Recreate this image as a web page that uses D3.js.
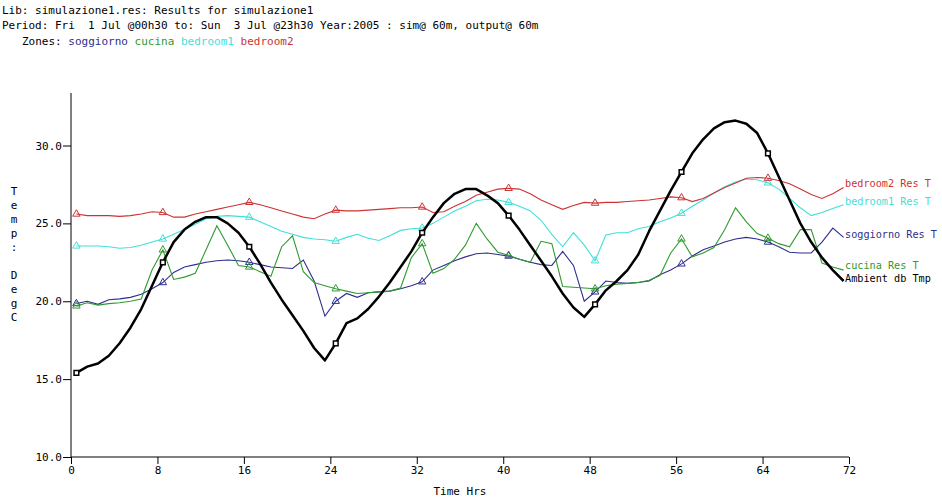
<!DOCTYPE html>
<html>
<head>
<meta charset="utf-8">
<script src="https://cdn.jsdelivr.net/npm/d3@7"></script>
<style>
  body { margin: 0; background: #fff; }
  text { font-family: "DejaVu Sans Mono", monospace; font-size: 11px; }
</style>
</head>
<body>
<script>
// hourly output, sim at 60m, values at hh:30
var hours = d3.range(72).map(function(i){ return i + 0.5; });
var xTicks = [0, 8, 16, 24, 32, 40, 48, 56, 64, 72];
var yTicks = [10, 15, 20, 25, 30];

var ambient = [15.4,15.8,16.0,16.5,17.3,18.3,19.5,21.0,22.5,23.8,24.6,25.1,25.4,25.4,25.0,24.4,
  23.5,22.4,21.2,20.1,19.1,18.1,17.0,16.2,17.3,18.6,18.9,19.5,20.3,21.2,22.2,23.2,
  24.4,25.4,26.3,26.9,27.2,27.2,26.8,26.3,25.5,24.6,23.6,22.6,21.6,20.5,19.6,19.0,
  19.8,20.7,21.3,22.0,23.0,24.5,25.8,27.1,28.3,29.5,30.4,31.1,31.5,31.6,31.4,30.8,
  29.5,28.0,26.5,25.0,23.8,22.8,22.0,21.3];
var soggiorno = [19.85,20.0,19.8,20.1,20.15,20.25,20.45,20.8,21.2,21.85,22.2,22.35,22.5,22.6,22.65,22.6,
  22.5,22.35,22.2,22.15,22.1,22.65,21.3,19.05,20.0,20.5,20.25,20.55,20.6,20.65,20.8,21.0,
  21.25,22.0,22.3,22.6,22.85,23.05,23.1,23.0,22.9,22.7,22.5,22.35,22.3,23.2,22.3,20.0,
  20.6,21.3,21.2,21.15,21.2,21.3,21.7,22.0,22.4,22.9,23.3,23.55,23.8,24.0,24.1,24.0,
  23.8,23.5,23.15,23.1,23.1,23.8,24.7,24.1];
var cucina = [19.7,19.9,19.75,19.85,19.9,20.0,20.15,22.0,23.3,21.4,21.55,21.8,23.3,24.85,23.6,22.3,
  22.2,21.9,21.6,23.5,24.2,21.9,21.2,21.0,20.8,20.65,20.5,20.55,20.6,20.65,20.85,22.8,
  23.7,21.8,22.1,22.7,23.6,25.0,24.0,23.15,22.95,22.7,22.5,23.85,23.7,20.95,20.9,20.85,
  20.8,21.0,21.1,21.15,21.2,21.35,21.65,23.1,24.0,22.85,23.1,23.45,24.6,26.0,25.1,24.35,
  24.05,23.7,23.5,24.6,24.6,22.45,22.2,22.0];
var bedroom1 = [23.55,23.55,23.55,23.5,23.4,23.45,23.6,23.8,24.0,24.3,24.6,24.95,25.3,25.45,25.5,25.45,
  25.4,25.1,24.8,24.5,24.3,24.1,24.0,23.95,23.85,24.1,24.3,24.05,23.9,24.2,24.55,24.65,
  24.7,25.0,25.4,25.8,26.1,26.45,26.55,26.5,26.35,26.1,25.8,25.2,24.3,23.5,24.4,23.6,
  22.6,24.25,24.4,24.4,24.65,24.8,25.1,25.35,25.65,26.1,26.5,26.95,27.35,27.65,27.85,27.8,
  27.6,27.2,26.6,26.0,25.5,25.7,25.95,26.2];
var bedroom2 = [25.6,25.5,25.5,25.5,25.45,25.5,25.6,25.75,25.7,25.4,25.4,25.6,25.75,25.9,26.05,26.2,
  26.35,26.2,26.0,25.8,25.6,25.4,25.3,25.6,25.85,25.8,25.8,25.85,25.9,25.95,26.0,26.0,
  26.05,25.7,25.75,26.1,26.4,26.8,27.0,27.2,27.25,27.2,26.9,26.5,26.2,25.9,26.15,26.35,
  26.3,26.35,26.35,26.4,26.45,26.5,26.6,26.7,26.65,26.4,26.6,26.95,27.3,27.6,27.9,27.95,
  27.9,27.75,27.55,27.2,26.85,26.6,26.9,27.3];

var zones = [
  {name:"soggiorno", label:"soggiorno Res T", values:soggiorno, color:"#2e2e8e", dy:1},
  {name:"cucina",    label:"cucina Res T",    values:cucina,    color:"#2f9a2f", dy:-1},
  {name:"bedroom1",  label:"bedroom1 Res T",  values:bedroom1,  color:"#3fe0d8", dy:0},
  {name:"bedroom2",  label:"bedroom2 Res T",  values:bedroom2,  color:"#cc3333", dy:-1}
];

var width = 942, height = 502;
var svg = d3.select("body").append("svg").attr("width",width).attr("height",height);

var x = d3.scaleLinear().domain([0,72]).range([71,849]);
var y = d3.scaleLinear().domain([10,30]).range([457,145.5]);

// header
var head = svg.append("g");
head.append("text").attr("x",2).attr("y",14).text("Lib: simulazione1.res: Results for simulazione1");
head.append("text").attr("x",2).attr("y",29).attr("xml:space","preserve")
  .text("Period: Fri  1 Jul @00h30 to: Sun  3 Jul @23h30 Year:2005 : sim@ 60m, output@ 60m");
var zt = head.append("text").attr("x",22).attr("y",45);
zt.append("tspan").text("Zones: ");
zones.forEach(function(z){ zt.append("tspan").attr("fill",z.color).text(z.name + " "); });

// axes
var xAxis = d3.axisBottom(x).tickValues(xTicks).tickSize(7).tickPadding(2).tickFormat(d3.format("d"));
var yAxis = d3.axisLeft(y).tickValues(yTicks).tickSize(8).tickPadding(1).tickFormat(d3.format(".1f"));

var gx = svg.append("g").attr("transform","translate(0,"+y(10)+")").call(xAxis);
var gy = svg.append("g").attr("transform","translate("+x(0)+",0)").call(yAxis);
gx.select(".domain").attr("d","M"+x(0)+",0H"+x(72));
gy.select(".domain").attr("d","M0,"+y(10)+"V93");
svg.selectAll(".tick text").attr("fill","#000");
svg.selectAll(".domain, .tick line").attr("stroke","#000");

svg.append("text").attr("x",x(36)).attr("y",495).attr("text-anchor","middle").text("Time Hrs");
var ylab = "Temp: DegC".split("");
svg.append("g").selectAll("text").data(ylab).join("text")
  .attr("x",14).attr("y",function(d,i){ return 195 + i*14; })
  .attr("text-anchor","middle").text(function(d){ return d; });

var line = d3.line().x(function(d,i){ return x(hours[i]); }).y(function(d){ return y(d); });
var markIdx = d3.range(0,72,8);

zones.forEach(function(z){
  svg.append("path").attr("d",line(z.values)).attr("fill","none")
    .attr("stroke",z.color).attr("stroke-width",1.1);
  svg.append("g").selectAll("path").data(markIdx).join("path")
    .attr("transform",function(i){ return "translate("+x(hours[i])+","+y(z.values[i])+")"; })
    .attr("d",d3.symbol(d3.symbolTriangle,24)).attr("fill","none").attr("stroke",z.color);
});

svg.append("path").attr("d",line(ambient)).attr("fill","none")
  .attr("stroke","#000").attr("stroke-width",2.5).attr("stroke-linejoin","round");
svg.append("g").selectAll("path").data(markIdx).join("path")
  .attr("transform",function(i){ return "translate("+x(hours[i])+","+y(ambient[i])+")"; })
  .attr("d",d3.symbol(d3.symbolSquare,22)).attr("fill","#fff").attr("stroke","#000").attr("stroke-width",1.5);

// end labels
var ends = zones.concat([{label:"Ambient db Tmp", values:ambient, color:"#000", dy:1}]);
svg.append("g").selectAll("text").data(ends).join("text")
  .attr("x",845).attr("y",function(d){ return y(d.values[71]) + d.dy; })
  .attr("fill",function(d){ return d.color; })
  .style("font-size","10.2px")
  .text(function(d){ return d.label; });
</script>
</body>
</html>
